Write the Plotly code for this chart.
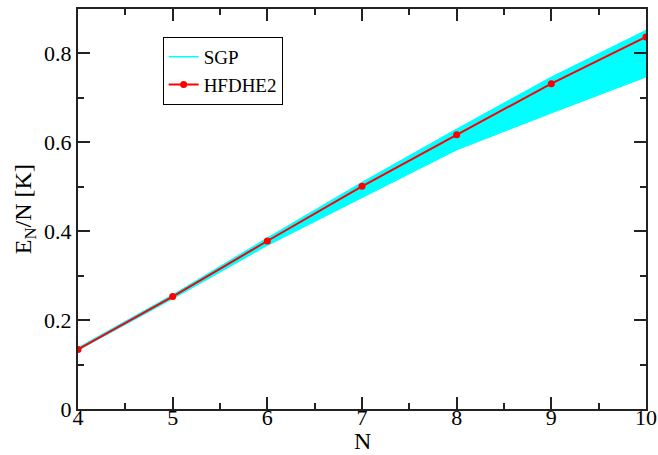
import plotly.graph_objects as go

N = [4, 5, 6, 7, 8, 9, 10]
hfdhe2 = [0.134, 0.253, 0.378, 0.501, 0.617, 0.732, 0.837]
sgp_low = [0.132, 0.248, 0.368, 0.476, 0.583, 0.666, 0.747]
sgp_high = [0.138, 0.257, 0.385, 0.510, 0.630, 0.747, 0.852]

CYAN = "#00FFFF"
RED = "#FF0000"
FONT = "'Liberation Serif', 'Times New Roman', serif"

fig = go.Figure()
fig.add_trace(go.Scatter(x=N, y=sgp_low, mode="lines", line=dict(color=CYAN, width=1),
                         showlegend=False, hoverinfo="skip"))
fig.add_trace(go.Scatter(x=N, y=sgp_high, mode="lines", line=dict(color=CYAN, width=1),
                         fill="tonexty", fillcolor=CYAN, showlegend=False, hoverinfo="skip"))
fig.add_trace(go.Scatter(x=[None], y=[None], mode="lines", line=dict(color=CYAN, width=1.5),
                         name="SGP"))
fig.add_trace(go.Scatter(x=N, y=hfdhe2, mode="lines+markers", name="HFDHE2",
                         line=dict(color=RED, width=2), marker=dict(color=RED, size=7)))

axis_common = dict(
    showline=True, linecolor="#222222", linewidth=2, mirror="allticks",
    ticks="inside", ticklen=12, tickwidth=1.5, tickcolor="#222222",
    showgrid=False, zeroline=False, automargin=False,
    tickfont=dict(family=FONT, size=22, color="black"),
)

fig.update_xaxes(range=[4, 10], dtick=1, tick0=4, ticklabelstandoff=-12,
                 minor=dict(ticks="inside", ticklen=6, dtick=0.5, tickcolor="#222222", tickwidth=1.5),
                 **axis_common)
fig.update_yaxes(range=[0, 0.9], dtick=0.2, tick0=0, tickformat="~g",
                 minor=dict(ticks="inside", ticklen=6, dtick=0.1, tickcolor="#222222", tickwidth=1.5),
                 **axis_common)

fig.add_annotation(text="N", xref="paper", yref="paper", x=0.5, y=-0.08, yanchor="middle",
                   xanchor="center", showarrow=False, font=dict(family=FONT, size=24, color="black"))
fig.add_annotation(text="E<sub>N</sub>/N [K]", xref="paper", yref="paper", x=-0.093, y=0.5,
                   xanchor="center", yanchor="middle", textangle=-90, showarrow=False,
                   font=dict(family=FONT, size=24, color="black"))

fig.update_layout(
    width=658, height=455,
    margin=dict(l=78, r=12, t=9, b=46, autoexpand=False),
    plot_bgcolor="white", paper_bgcolor="white",
    legend=dict(x=0.149, y=0.93, xanchor="left", yanchor="top", traceorder="normal",
                bordercolor="black", borderwidth=1, bgcolor="white",
                font=dict(family=FONT, size=19, color="black"),
                tracegroupgap=0, itemwidth=30),
)

fig.write_html("out.html", config={"displayModeBar": False},
               post_script="document.body.style.margin='0';")
